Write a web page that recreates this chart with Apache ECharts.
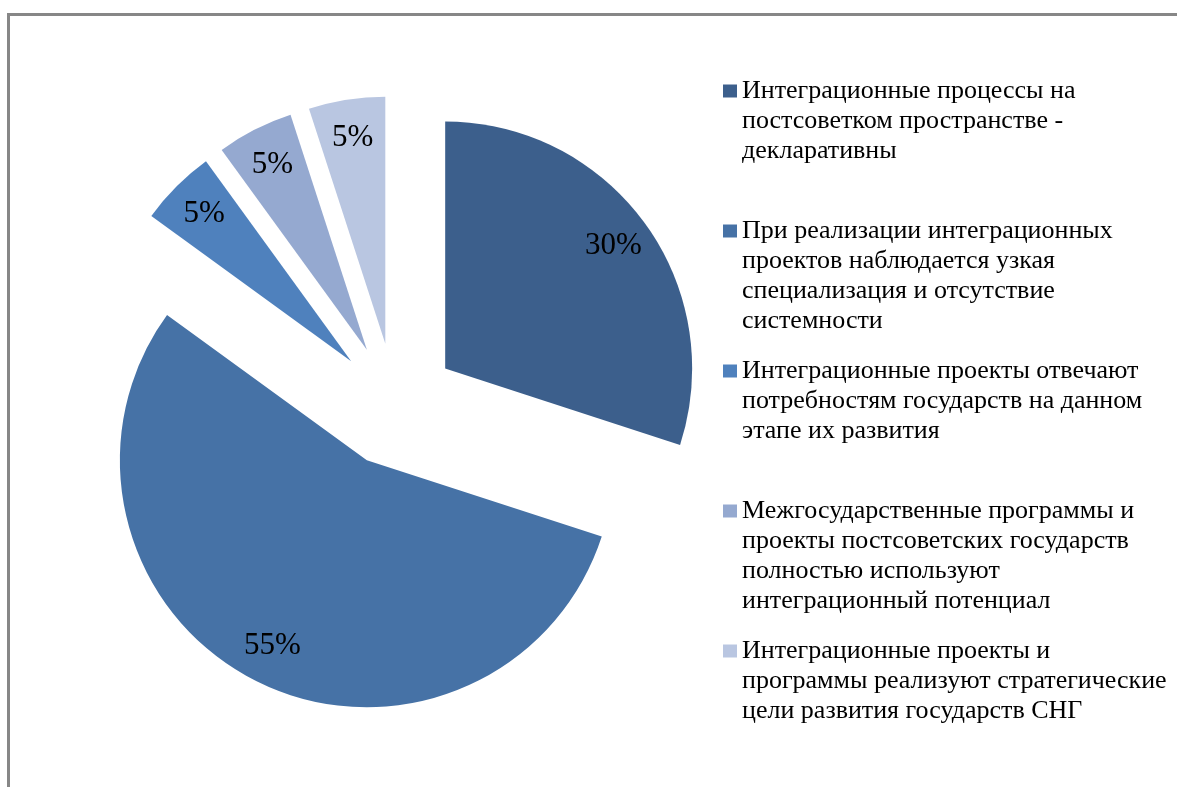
<!DOCTYPE html>
<html>
<head>
<meta charset="utf-8">
<script src="https://cdn.jsdelivr.net/npm/echarts@6/dist/echarts.min.js"></script>
<style>
    html, body { margin: 0; padding: 0; background: #fff; }
    #chart { width: 1177px; height: 787px; }
</style>
</head>
<body>
<div id="chart"></div>
<script>
// данные диаграммы
var categories = [
    'Интеграционные процессы на\nпостсоветком пространстве -\nдекларативны',
    'При реализации интеграционных\nпроектов наблюдается узкая\nспециализация и отсутствие\nсистемности',
    'Интеграционные проекты отвечают\nпотребностям государств на данном\nэтапе их развития',
    'Межгосударственные программы и\nпроекты постсоветских государств\nполностью используют\nинтеграционный потенциал',
    'Интеграционные проекты и\nпрограммы реализуют стратегические\nцели развития государств СНГ'
];
var shares = [30, 55, 5, 5, 5];

var palette = ['#3c5f8c', '#4672a6', '#4f81bd', '#95a9d0', '#b9c6e1'];

var LINE_H = 30;
var FONT = 'Liberation Serif, Times New Roman, serif';

var buildData = function () {
    return categories.map(function (name, i) {
        return { name: name, value: shares[i], selected: true };
    });
};

// отдельная легенда на каждый пункт; пустые строки сверху,
// чтобы значок стоял у первой строки текста
var buildLegends = function () {
    return categories.map(function (name, i) {
        var n = name.split('\n').length;
        var h = (2 * n - 1) * LINE_H;
        return {
            data: [name],
            orient: 'vertical',
            left: 723,
            top: 91 + 140 * i - h / 2,
            padding: 0,
            icon: 'rect',
            itemWidth: 14,
            itemHeight: 13,
            selectedMode: false,
            formatter: function (nm) {
                return new Array(n).join('\n') + nm;
            },
            textStyle: {
                fontFamily: FONT,
                fontSize: 26,
                lineHeight: LINE_H,
                color: '#000'
            }
        };
    });
};

var myChart = echarts.init(document.getElementById('chart'));
myChart.setOption({
    animation: false,
    color: palette,
    legend: buildLegends(),
    graphic: [{
        type: 'rect',
        shape: { x: 8.5, y: 14.5, width: 1400, height: 1000 },
        style: { fill: 'none', stroke: '#878787', lineWidth: 3 },
        silent: true
    }],
    series: [
        {
            name: 'main',
            type: 'pie',
            center: [395, 405],
            radius: [0, 247],
            startAngle: 90,
            selectedMode: 'multiple',
            selectedOffset: 62,
            label: { show: false },
            labelLine: { show: false },
            emphasis: { scale: false },
            data: buildData()
        },
        {
            // прозрачный слой только для подписей процентов
            name: 'labels',
            type: 'pie',
            center: [395, 405],
            radius: [163, 247],
            startAngle: 90,
            selectedMode: 'multiple',
            selectedOffset: 62,
            silent: true,
            itemStyle: { color: 'rgba(0,0,0,0)' },
            label: {
                show: true,
                position: 'inside',
                formatter: '{c}%',
                fontFamily: FONT,
                fontSize: 31,
                color: '#000'
            },
            labelLine: { show: false },
            emphasis: { scale: false },
            data: buildData()
        }
    ]
});
</script>
</body>
</html>
